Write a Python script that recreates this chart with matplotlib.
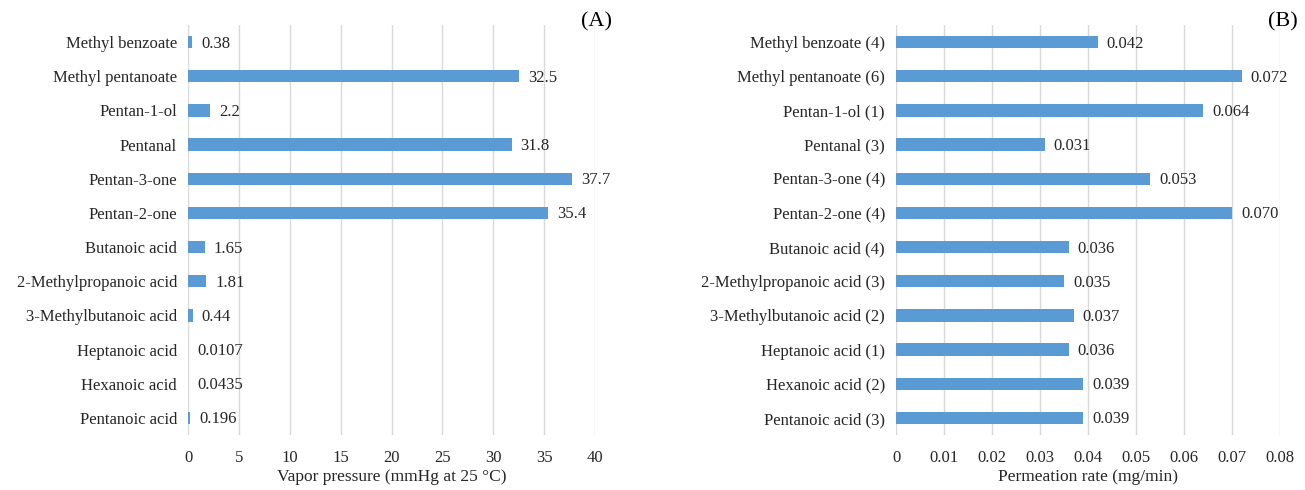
import matplotlib.pyplot as plt

compounds_a = ['Methyl benzoate', 'Methyl pentanoate', 'Pentan-1-ol', 'Pentanal',
               'Pentan-3-one', 'Pentan-2-one', 'Butanoic acid', '2-Methylpropanoic acid',
               '3-Methylbutanoic acid', 'Heptanoic acid', 'Hexanoic acid', 'Pentanoic acid']
vapor_pressure = [0.38, 32.5, 2.2, 31.8, 37.7, 35.4, 1.65, 1.81, 0.44, 0.0107, 0.0435, 0.196]
vapor_labels = ['0.38', '32.5', '2.2', '31.8', '37.7', '35.4', '1.65', '1.81', '0.44',
                '0.0107', '0.0435', '0.196']

compounds_b = ['Methyl benzoate (4)', 'Methyl pentanoate (6)', 'Pentan-1-ol (1)', 'Pentanal (3)',
               'Pentan-3-one (4)', 'Pentan-2-one (4)', 'Butanoic acid (4)',
               '2-Methylpropanoic acid (3)', '3-Methylbutanoic acid (2)', 'Heptanoic acid (1)',
               'Hexanoic acid (2)', 'Pentanoic acid (3)']
permeation = [0.042, 0.072, 0.064, 0.031, 0.053, 0.070, 0.036, 0.035, 0.037, 0.036, 0.039, 0.039]
perm_labels = ['0.042', '0.072', '0.064', '0.031', '0.053', '0.070', '0.036', '0.035',
               '0.037', '0.036', '0.039', '0.039']

plt.rcParams['font.family'] = ['Liberation Serif', 'DejaVu Serif']
plt.rcParams['font.size'] = 12
bar_color = '#5B9BD5'
grid_color = '#D9D9D9'
text_color = '#262626'

fig = plt.figure(figsize=(13.05, 4.9), dpi=100)
ax1 = fig.add_axes([0.1441, 0.1122, 0.3119, 0.8367])
ax2 = fig.add_axes([0.6866, 0.1122, 0.2943, 0.8367])


def draw(ax, names, vals, labels, xmax, step, xlabel, tickfmt):
    y = list(range(len(names)))[::-1]
    ax.barh(y, vals, height=0.36, color=bar_color, zorder=3)
    for yi, v, lab in zip(y, vals, labels):
        ax.annotate(lab, (v, yi), xytext=(6.5, -1), textcoords='offset points',
                    va='center', ha='left', fontsize=12, color=text_color)
    ax.set_yticks(y)
    ax.set_yticklabels(names)
    ticks = [i * step for i in range(int(round(xmax / step)) + 1)]
    ax.set_xticks(ticks)
    ax.set_xticklabels([tickfmt(t) for t in ticks])
    ax.set_xlim(0, xmax)
    ax.set_ylim(-0.5, len(names) - 0.5)
    ax.grid(axis='x', color=grid_color, linewidth=1, zorder=0)
    for s in ax.spines.values():
        s.set_visible(False)
    ax.tick_params(length=0, pad=8, colors=text_color)
    ax.tick_params(axis='x', pad=11)
    ax.set_xlabel(xlabel, fontsize=12.5, labelpad=2, color=text_color)


draw(ax1, compounds_a, vapor_pressure, vapor_labels, 40, 5,
     'Vapor pressure (mmHg at 25 °C)', lambda t: '%g' % t)
draw(ax2, compounds_b, permeation, perm_labels, 0.08, 0.01,
     'Permeation rate (mg/min)', lambda t: '0' if t == 0 else '%.2f' % t)

fig.text(0.445, 0.955, '(A)', fontsize=16, ha='left', va='center')
fig.text(0.972, 0.955, '(B)', fontsize=16, ha='left', va='center')

fig.savefig('out.png', dpi=100)
